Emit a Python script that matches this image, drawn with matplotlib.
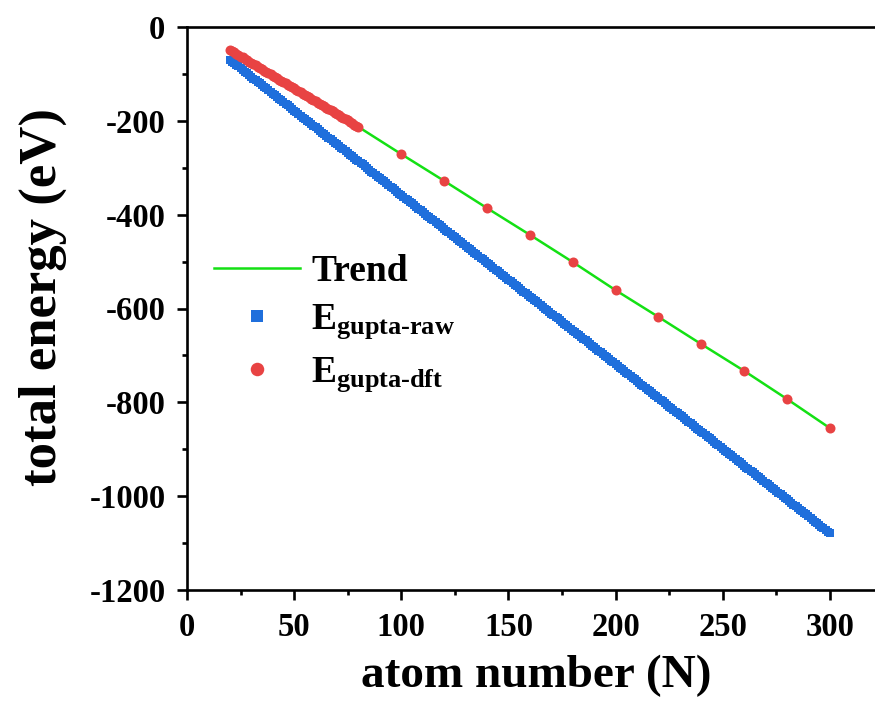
import matplotlib
matplotlib.use("Agg")
import matplotlib.pyplot as plt
import numpy as np

# datos
n_raw = np.arange(20, 301)
e_raw = [-70, -74, -77, -81, -84, -88, -92, -95, -99, -102,
         -106, -110, -113, -117, -120, -124, -128, -131, -135, -138,
         -142, -146, -149, -153, -156, -160, -164, -167, -171, -175,
         -178, -182, -185, -189, -193, -196, -200, -203, -207, -211,
         -214, -218, -221, -225, -229, -232, -236, -239, -243, -247,
         -250, -254, -257, -261, -265, -268, -272, -275, -279, -283,
         -286, -290, -293, -297, -301, -304, -308, -311, -315, -319,
         -322, -326, -329, -333, -337, -340, -344, -348, -351, -355,
         -358, -362, -366, -369, -373, -376, -380, -384, -387, -391,
         -394, -398, -402, -405, -409, -412, -416, -420, -423, -427,
         -430, -434, -438, -441, -445, -448, -452, -456, -459, -463,
         -466, -470, -474, -477, -481, -484, -488, -492, -495, -499,
         -502, -506, -510, -513, -517, -520, -524, -528, -531, -535,
         -539, -542, -546, -549, -553, -557, -560, -564, -567, -571,
         -575, -578, -582, -585, -589, -593, -596, -600, -603, -607,
         -611, -614, -618, -621, -625, -629, -632, -636, -639, -643,
         -647, -650, -654, -657, -661, -665, -668, -672, -675, -679,
         -683, -686, -690, -693, -697, -701, -704, -708, -712, -715,
         -719, -722, -726, -730, -733, -737, -740, -744, -748, -751,
         -755, -758, -762, -766, -769, -773, -776, -780, -784, -787,
         -791, -794, -798, -802, -805, -809, -812, -816, -820, -823,
         -827, -830, -834, -838, -841, -845, -848, -852, -856, -859,
         -863, -866, -870, -874, -877, -881, -885, -888, -892, -895,
         -899, -903, -906, -910, -913, -917, -921, -924, -928, -931,
         -935, -939, -942, -946, -949, -953, -957, -960, -964, -967,
         -971, -975, -978, -982, -985, -989, -993, -996, -1000, -1003,
         -1007, -1011, -1014, -1018, -1021, -1025, -1029, -1032, -1036, -1039,
         -1043, -1047, -1050, -1054, -1057, -1061, -1065, -1068, -1072, -1076,
         -1079]

n_dft = list(range(20, 81)) + [100, 120, 140, 160, 180, 200, 220, 240, 260, 280, 300]
e_dft = [-49, -52, -54, -57, -60, -63, -65, -68, -71, -74,
         -76, -79, -82, -85, -87, -90, -93, -95, -98, -101,
         -104, -106, -109, -112, -115, -117, -120, -123, -126, -128,
         -131, -134, -136, -139, -142, -145, -147, -150, -153, -156,
         -158, -161, -164, -167, -169, -172, -175, -177, -180, -183,
         -186, -188, -191, -194, -197, -199, -202, -205, -208, -210,
         -213,
         -271, -328, -386, -443, -501, -561, -618, -676, -733, -793, -855]

xticks = [0, 50, 100, 150, 200, 250, 300]
yticks = [0, -200, -400, -600, -800, -1000, -1200]

plt.rcParams['font.family'] = ['Liberation Serif', 'DejaVu Serif']
plt.rcParams['font.weight'] = 'bold'
plt.rcParams['axes.unicode_minus'] = False
plt.rcParams['mathtext.fontset'] = 'custom'
plt.rcParams['mathtext.rm'] = 'Liberation Serif:bold'
plt.rcParams['mathtext.bf'] = 'Liberation Serif:bold'
plt.rcParams['mathtext.it'] = 'Liberation Serif:bold'

fig = plt.figure(figsize=(8.75, 7.11), dpi=100)
ax = fig.add_axes([187/875, 1 - 590/711, 1 - 187/875, (590 - 27)/711])

azul = '#1f6fdc'
rojo = '#e84343'
verde = '#14e014'

ax.plot(n_dft, e_dft, '-', color=verde, linewidth=1.8, label='Trend', zorder=2)
ax.plot(n_raw, e_raw, 's', color=azul, markersize=6.3, markeredgewidth=0,
        linestyle='none', label=r'$\mathbf{E}_{\mathbf{gupta\text{-}raw}}$', zorder=3)
ax.plot(n_dft, e_dft, 'o', color=rojo, markersize=7.2, markeredgewidth=0,
        linestyle='none', label=r'$\mathbf{E}_{\mathbf{gupta\text{-}dft}}$', zorder=4)

ax.set_xlim(0, 688/2.143)
ax.set_ylim(-1200, 0)
ax.set_xticks(xticks)
ax.set_yticks(yticks)
ax.set_xticks([25, 75, 125, 175, 225, 275], minor=True)
ax.set_yticks([-100, -300, -500, -700, -900, -1100], minor=True)

for s in ['left', 'bottom', 'top']:
    ax.spines[s].set_linewidth(1.9)
ax.spines['right'].set_visible(False)

ax.tick_params(which='major', direction='out', length=7.5, width=1.9,
               labelsize=23.5, pad=8)
ax.tick_params(which='minor', direction='out', length=3.5, width=1.9)
ax.tick_params(axis='x', which='both', top=False)

ax.set_xlabel('atom number (N)', fontsize=34, fontweight='bold', va='center')
ax.set_ylabel('total energy (eV)', fontsize=38, fontweight='bold', va='center')
ax.xaxis.set_label_coords(0.507, -0.153)
ax.yaxis.set_label_coords(-0.209, 0.52)

leg = ax.legend(loc='center left', bbox_to_anchor=(180/875, 1 - 324/711),
                bbox_transform=fig.transFigure, frameon=False, fontsize=27,
                handlelength=2.3, handletextpad=0.3, labelspacing=0.35,
                markerscale=1.35)

plt.savefig('out.png', dpi=100)
